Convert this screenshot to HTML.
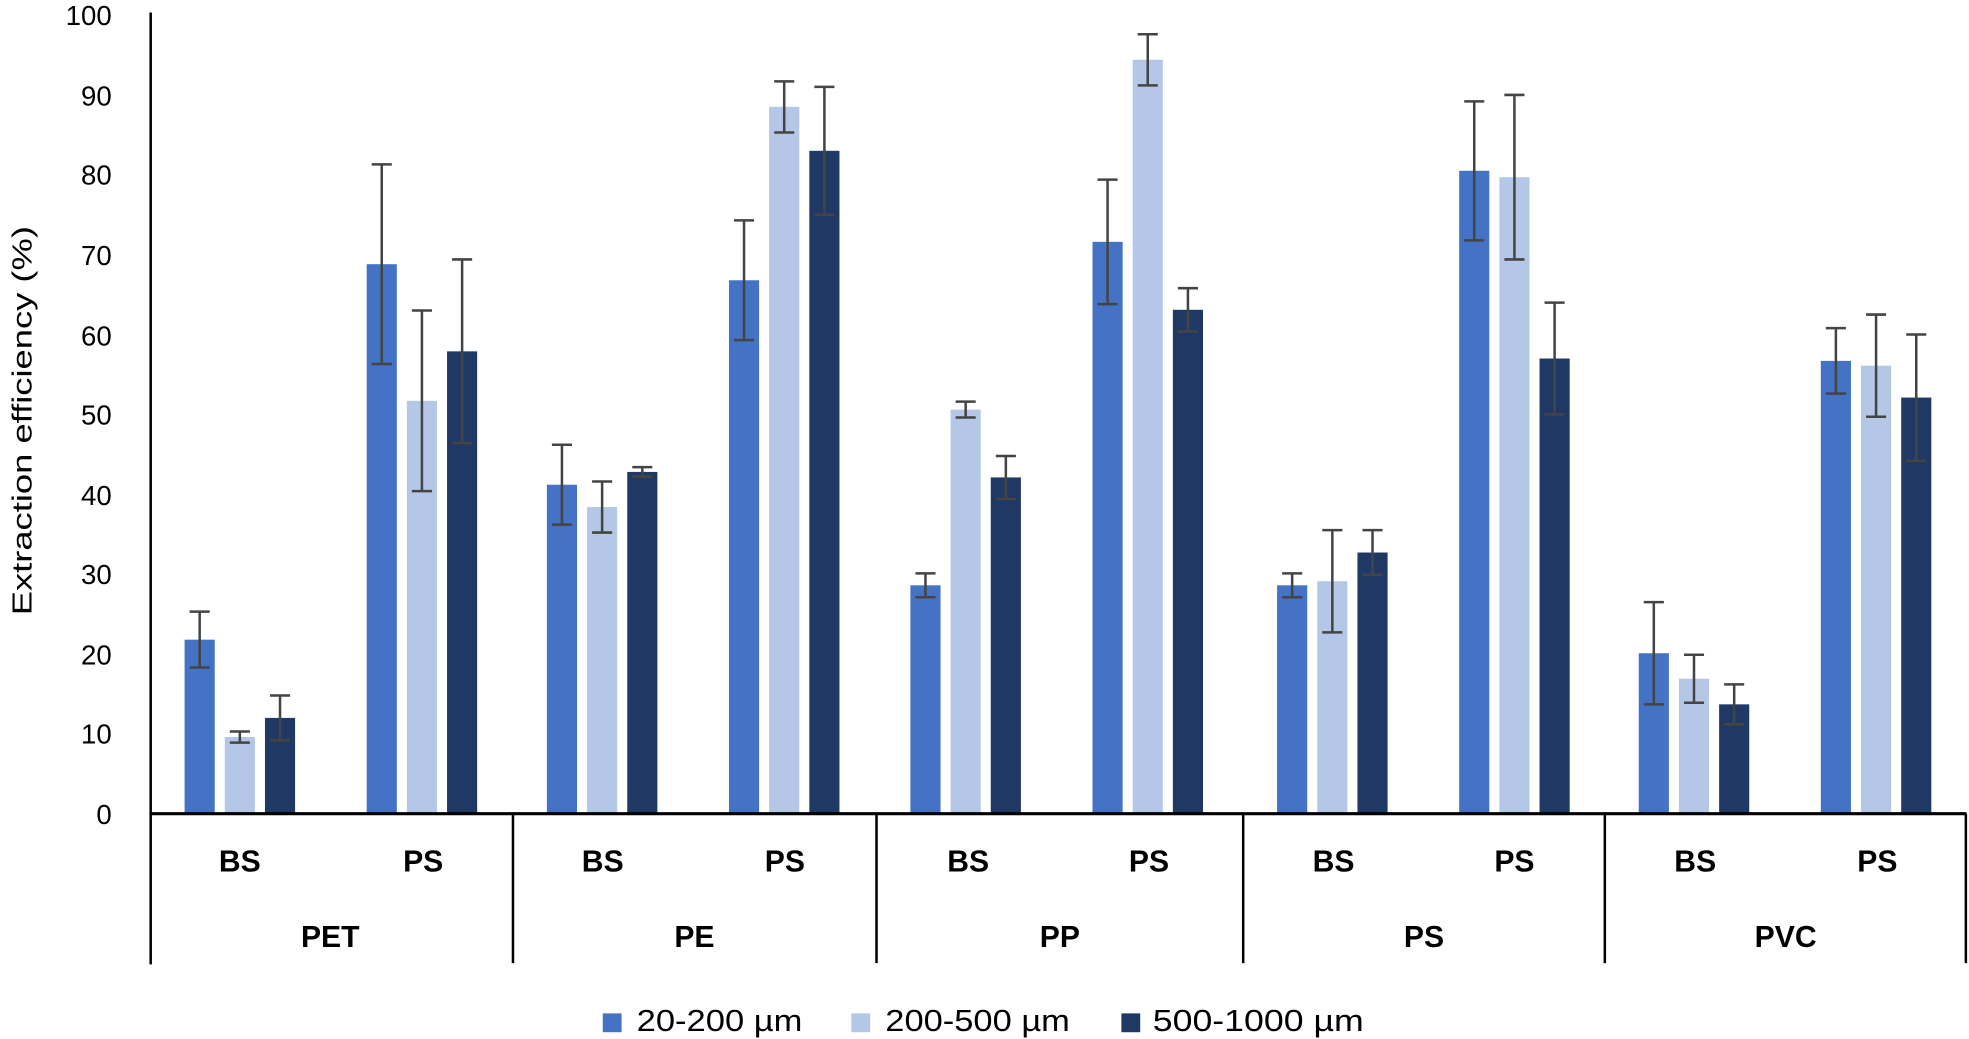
<!DOCTYPE html>
<html><head><meta charset="utf-8"><style>
html,body{margin:0;padding:0;background:#fff;}
svg{display:block;}
text{font-family:"Liberation Sans",sans-serif;fill:#000;}
</style></head><body>
<svg width="1969" height="1039" viewBox="0 0 1568 827.4" preserveAspectRatio="none" xmlns="http://www.w3.org/2000/svg">
<g font-size="22" text-anchor="end">
<text x="89" y="656">0</text>
<text x="89" y="592">10</text>
<text x="89" y="529">20</text>
<text x="89" y="465">30</text>
<text x="89" y="402">40</text>
<text x="89" y="338">50</text>
<text x="89" y="275">60</text>
<text x="89" y="211">70</text>
<text x="89" y="147">80</text>
<text x="89" y="84">90</text>
<text x="89" y="20">100</text>
</g>
<text transform="translate(25,335) rotate(-90)" font-size="22" text-anchor="middle" textLength="310" lengthAdjust="spacingAndGlyphs">Extraction efficiency (%)</text>
<g fill="#4472C4">
<rect x="147" y="509.4" width="24" height="138.6"/>
<rect x="292" y="210.4" width="24" height="437.6"/>
<rect x="435.5" y="386" width="24" height="262"/>
<rect x="580.5" y="223.2" width="24" height="424.8"/>
<rect x="725" y="466.1" width="24" height="181.9"/>
<rect x="870" y="192.6" width="24" height="455.4"/>
<rect x="1017" y="466.1" width="24" height="181.9"/>
<rect x="1162" y="136" width="24" height="512"/>
<rect x="1305" y="520.2" width="24" height="127.8"/>
<rect x="1450" y="287.4" width="24" height="360.6"/>
</g>
<g fill="#B4C7E7">
<rect x="179" y="586.9" width="24" height="61.1"/>
<rect x="324" y="319.2" width="24" height="328.8"/>
<rect x="467.5" y="403.8" width="24" height="244.2"/>
<rect x="612.5" y="85.1" width="24" height="562.9"/>
<rect x="757" y="326.2" width="24" height="321.8"/>
<rect x="902" y="47.6" width="24" height="600.4"/>
<rect x="1049" y="462.9" width="24" height="185.1"/>
<rect x="1194" y="141.1" width="24" height="506.9"/>
<rect x="1337" y="540.5" width="24" height="107.5"/>
<rect x="1482" y="291.2" width="24" height="356.8"/>
</g>
<g fill="#203864">
<rect x="211" y="571.7" width="24" height="76.3"/>
<rect x="356" y="279.8" width="24" height="368.2"/>
<rect x="499.5" y="375.8" width="24" height="272.2"/>
<rect x="644.5" y="120.1" width="24" height="527.9"/>
<rect x="789" y="380.2" width="24" height="267.8"/>
<rect x="934" y="246.7" width="24" height="401.3"/>
<rect x="1081" y="440" width="24" height="208"/>
<rect x="1226" y="285.5" width="24" height="362.5"/>
<rect x="1369" y="560.9" width="24" height="87.1"/>
<rect x="1514" y="316.6" width="24" height="331.4"/>
</g>
<g stroke="#444" stroke-width="2" fill="none">
<path d="M151 487.1H167M159 487.1V531.6M151 531.6H167"/>
<path d="M183 582.5H199M191 582.5V591.4M183 591.4H199"/>
<path d="M215 553.9H231M223 553.9V589.5M215 589.5H231"/>
<path d="M296 130.9H312M304 130.9V289.9M296 289.9H312"/>
<path d="M328 247.3H344M336 247.3V391.1M328 391.1H344"/>
<path d="M360 206.6H376M368 206.6V352.9M360 352.9H376"/>
<path d="M439.5 354.2H455.5M447.5 354.2V417.8M439.5 417.8H455.5"/>
<path d="M471.5 383.4H487.5M479.5 383.4V424.1M471.5 424.1H487.5"/>
<path d="M503.5 372H519.5M511.5 372V379.6M503.5 379.6H519.5"/>
<path d="M584.5 175.5H600.5M592.5 175.5V270.9M584.5 270.9H600.5"/>
<path d="M616.5 64.8H632.5M624.5 64.8V105.5M616.5 105.5H632.5"/>
<path d="M648.5 69.2H664.5M656.5 69.2V171M648.5 171H664.5"/>
<path d="M729 456.6H745M737 456.6V475.6M729 475.6H745"/>
<path d="M761 319.8H777M769 319.8V332.5M761 332.5H777"/>
<path d="M793 363.1H809M801 363.1V397.4M793 397.4H809"/>
<path d="M874 143H890M882 143V242.2M874 242.2H890"/>
<path d="M906 27.3H922M914 27.3V68M906 68H922"/>
<path d="M938 229.5H954M946 229.5V263.9M938 263.9H954"/>
<path d="M1021 456.6H1037M1029 456.6V475.6M1021 475.6H1037"/>
<path d="M1053 422.2H1069M1061 422.2V503.6M1053 503.6H1069"/>
<path d="M1085 422.2H1101M1093 422.2V457.8M1085 457.8H1101"/>
<path d="M1166 80.7H1182M1174 80.7V191.4M1166 191.4H1182"/>
<path d="M1198 75.6H1214M1206 75.6V206.6M1198 206.6H1214"/>
<path d="M1230 241H1246M1238 241V330M1230 330H1246"/>
<path d="M1309 479.5H1325M1317 479.5V560.9M1309 560.9H1325"/>
<path d="M1341 521.4H1357M1349 521.4V559.6M1341 559.6H1357"/>
<path d="M1373 545H1389M1381 545V576.8M1373 576.8H1389"/>
<path d="M1454 261.3H1470M1462 261.3V313.5M1454 313.5H1470"/>
<path d="M1486 250.5H1502M1494 250.5V331.9M1486 331.9H1502"/>
<path d="M1518 266.4H1534M1526 266.4V366.9M1518 366.9H1534"/>
</g>
<line x1="120" y1="10" x2="120" y2="768" stroke="#000" stroke-width="2"/>
<line x1="119" y1="648" x2="1566" y2="648" stroke="#000" stroke-width="2.5"/>
<g stroke="#000" stroke-width="2">
<line x1="408.5" y1="648" x2="408.5" y2="767"/>
<line x1="698" y1="648" x2="698" y2="767"/>
<line x1="990" y1="648" x2="990" y2="767"/>
<line x1="1278" y1="648" x2="1278" y2="767"/>
<line x1="1565.5" y1="648" x2="1565.5" y2="767"/>
</g>
<g font-size="24" font-weight="bold" text-anchor="middle">
<text x="191" y="694">BS</text><text x="337" y="694">PS</text>
<text x="480" y="694">BS</text><text x="625" y="694">PS</text>
<text x="771" y="694">BS</text><text x="915" y="694">PS</text>
<text x="1062" y="694">BS</text><text x="1206" y="694">PS</text>
<text x="1350" y="694">BS</text><text x="1495" y="694">PS</text>
<text x="263" y="754">PET</text>
<text x="553" y="754">PE</text>
<text x="844" y="754">PP</text>
<text x="1134" y="754">PS</text>
<text x="1422" y="754">PVC</text>
</g>
<rect x="480" y="807" width="15" height="15" fill="#4472C4"/>
<rect x="678" y="807" width="15" height="15" fill="#B4C7E7"/>
<rect x="893" y="807" width="15" height="15" fill="#203864"/>
<g font-size="24">
<text x="507" y="821" textLength="132" lengthAdjust="spacingAndGlyphs">20-200 µm</text>
<text x="705" y="821" textLength="147" lengthAdjust="spacingAndGlyphs">200-500 µm</text>
<text x="918" y="821" textLength="168" lengthAdjust="spacingAndGlyphs">500-1000 µm</text>
</g>
</svg>
</body></html>
